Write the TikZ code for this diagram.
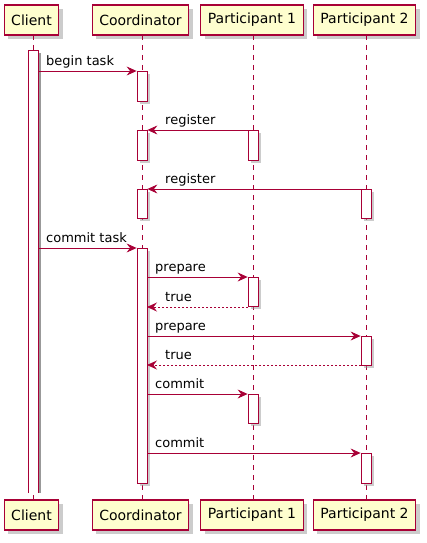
\documentclass[tikz,border=0pt]{standalone}
\usepackage{fontspec}
\setmainfont{DejaVu Sans}
\usetikzlibrary{arrows.meta,shadows}
\definecolor{umlred}{HTML}{A80036}
\definecolor{umlbox}{HTML}{FEFECE}

\begin{document}
\begin{tikzpicture}[x=1pt,y=-1pt,
    part_node/.style={draw=umlred,fill=umlbox,line width=1.2pt,minimum height=30pt,inner xsep=7pt,inner ysep=0pt,font=\fontsize{14}{16}\selectfont,drop shadow={shadow xshift=4pt,shadow yshift=-4pt,fill=black!40}},
    act_node/.style={draw=umlred,fill=white,line width=0.8pt,minimum width=10pt,inner sep=0pt,anchor=north,drop shadow={shadow xshift=3pt,shadow yshift=-3pt,fill=black!40}},
    life/.style={draw=umlred,line width=0.8pt,dash pattern=on 5pt off 5pt},
    msg/.style={draw=umlred,line width=0.8pt,-{Stealth[length=10pt,width=9pt,inset=3.5pt]}},
    reply/.style={msg,dash pattern=on 2pt off 2pt},
    msg_label/.style={anchor=base west,inner sep=0pt,font=\fontsize{13}{15}\selectfont}]
    \useasboundingbox (0,0) rectangle (427,543);

    % participants, top and bottom
    \node[part_node] (cl) at (31.5,20) {Client};
    \node[part_node] (co) at (140.5,20) {Coordinator};
    \node[part_node] (p1) at (252,20) {Participant 1};
    \node[part_node] (p2) at (364.5,20) {Participant 2};
    \node[part_node] (cl_b) at (31.5,515) {Client};
    \node[part_node] (co_b) at (140.5,515) {Coordinator};
    \node[part_node] (p1_b) at (252,515) {Participant 1};
    \node[part_node] (p2_b) at (364.5,515) {Participant 2};

    % lifelines
    \draw[life] (33,35) -- (33,500);
    \draw[life] (142,35) -- (142,500);
    \draw[life] (253,35) -- (253,500);
    \draw[life] (366,35) -- (366,500);

    % client activation (open at the bottom)
    \fill[black!40] (31,53) rectangle (41,493);
    \fill[white] (28,50) rectangle (38,493);
    \draw[umlred,line width=0.8pt] (28,493) -- (28,50) -- (38,50) -- (38,493);
    \coordinate (cl_1) at (38,71);
    \coordinate (cl_2) at (38,248);

    % activations
    \node[act_node,minimum height=30pt] (co_a1) at (142,71) {};
    \node[act_node,minimum height=30pt] (co_a2) at (142,130) {};
    \node[act_node,minimum height=30pt] (p1_a1) at (253,130) {};
    \node[act_node,minimum height=29pt] (co_a3) at (142,189) {};
    \node[act_node,minimum height=29pt] (p2_a1) at (366,189) {};
    \node[act_node,minimum height=235pt] (co_a4) at (142,248) {};
    \node[act_node,minimum height=29pt] (p1_a2) at (253,277) {};
    \node[act_node,minimum height=29pt] (p2_a2) at (366,336) {};
    \node[act_node,minimum height=29pt] (p1_a3) at (253,394) {};
    \node[act_node,minimum height=30pt] (p2_a3) at (366,453) {};
    \coordinate (co_r1) at (147,307);
    \coordinate (co_r2) at (147,365);
    \coordinate (co_c1) at (147,277);
    \coordinate (co_c2) at (147,336);
    \coordinate (co_c3) at (147,394);
    \coordinate (co_c4) at (147,453);
    \coordinate (p1_r) at (248,307);
    \coordinate (p2_r) at (361,365);

    % messages
    \draw[msg] (cl_1) -- (co_a1.north west);
    \node[msg_label] at (46,65) {begin task};
    \draw[msg] (p1_a1.north west) -- (co_a2.north east);
    \node[msg_label] at (165,124) {register};
    \draw[msg] (p2_a1.north west) -- (co_a3.north east);
    \node[msg_label] at (165,183) {register};
    \draw[msg] (cl_2) -- (co_a4.north west);
    \node[msg_label] at (46,242) {commit task};
    \draw[msg] (co_c1) -- (p1_a2.north west);
    \node[msg_label] at (155,271) {prepare};
    \draw[reply] (p1_r) -- (co_r1);
    \node[msg_label] at (165,301) {true};
    \draw[msg] (co_c2) -- (p2_a2.north west);
    \node[msg_label] at (155,330) {prepare};
    \draw[reply] (p2_r) -- (co_r2);
    \node[msg_label] at (165,359) {true};
    \draw[msg] (co_c3) -- (p1_a3.north west);
    \node[msg_label] at (155,388) {commit};
    \draw[msg] (co_c4) -- (p2_a3.north west);
    \node[msg_label] at (155,447) {commit};
\end{tikzpicture}
\end{document}
